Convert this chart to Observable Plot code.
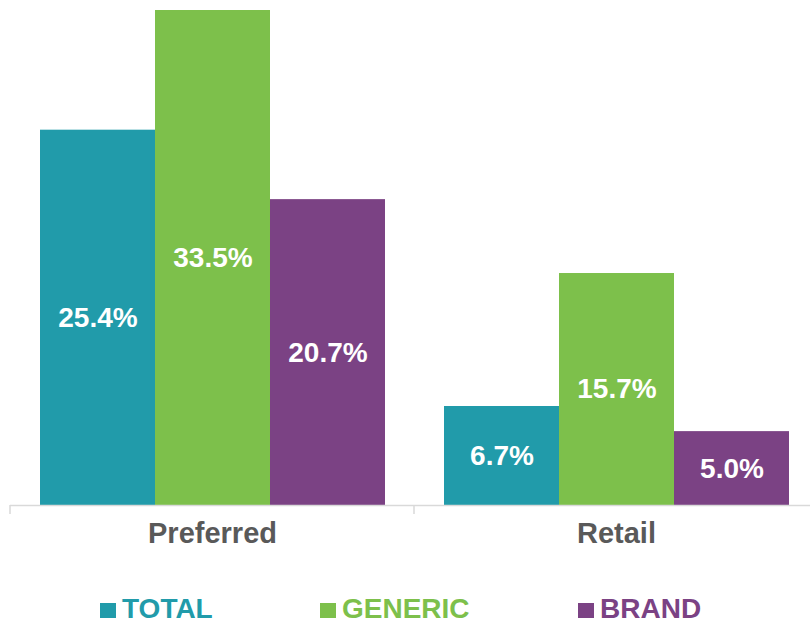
<!DOCTYPE html>
<html>
<head>
<meta charset="utf-8">
<script src="https://cdn.jsdelivr.net/npm/d3@7"></script>
<script src="https://cdn.jsdelivr.net/npm/@observablehq/plot@0.6"></script>
<style>
  html, body { margin: 0; padding: 0; background: #fff; overflow: hidden; width: 810px; height: 623px; }
  #chart { position: absolute; left: 0; top: 0; width: 818px; }
  #chart svg { max-width: none !important; }
  #legend { position: absolute; left: 0; top: 591px; width: 810px; height: 36px;
    font-family: "Liberation Sans", Arial, sans-serif; font-weight: bold; font-size: 28px; }
  .item { position: absolute; top: 0; height: 36px; }
  .sw { position: absolute; left: 0; top: 12px; width: 16px; height: 15px; }
  .lbl { position: absolute; left: 22px; top: 0; line-height: 36px; white-space: nowrap; }
</style>
</head>
<body>
<div id="chart"></div>
<div id="legend"></div>
<script>
const groups = ["Preferred", "Retail"];
const seriesNames = ["TOTAL", "GENERIC", "BRAND"];
const seriesColors = ["#219BAA", "#7DC04B", "#7B4284"];
const totalValues = [25.4, 6.7];
const genericValues = [33.5, 15.7];
const brandValues = [20.7, 5.0];

const valuesBySeries = [totalValues, genericValues, brandValues];
const data = [];
groups.forEach((g, gi) => {
  seriesNames.forEach((s, si) => {
    data.push({group: g, series: s, value: valuesBySeries[si][gi]});
  });
});

const plot = Plot.plot({
  width: 818,
  height: 580,
  marginLeft: 10,
  marginRight: 0,
  marginTop: 10,
  marginBottom: 75,
  style: {fontFamily: '"Liberation Sans", Arial, sans-serif', background: "#fff"},
  fx: {domain: groups, padding: 0, label: null},
  x: {domain: seriesNames, paddingInner: 0, paddingOuter: 0.2565, axis: null},
  y: {domain: [0, 33.5], axis: null},
  color: {domain: seriesNames, range: seriesColors},
  marks: [
    Plot.barY(data, {fx: "group", x: "series", y: "value", fill: "series"}),
    Plot.ruleY([0], {stroke: "#d9d9d9", strokeWidth: 1.5}),
    Plot.text(data, {fx: "group", x: "series", y: d => d.value / 2, text: d => d.value.toFixed(1) + "%",
      fill: "white", fontSize: 28, fontWeight: "bold"}),
    Plot.axisFx({anchor: "bottom", tickSize: 0, tickPadding: 17, fontSize: 29, fontWeight: "bold", fill: "#595959", label: null})
  ]
});
plot.style.maxWidth = "none";
document.getElementById("chart").appendChild(plot);

const svg = d3.select(plot);

// group-boundary ticks on the category axis, derived from the fx scale
const fxs = plot.scale("fx");
const yS = plot.scale("y");
const y0 = yS.range[0];
const bounds = fxs.domain.map((d, i) => fxs.range[0] + i * fxs.step);
bounds.push(fxs.range[0] + fxs.domain.length * fxs.step);
svg.append("g").selectAll("line").data(bounds).join("line")
  .attr("x1", d => d).attr("x2", d => d)
  .attr("y1", y0).attr("y2", y0 + 9)
  .attr("stroke", "#d9d9d9").attr("stroke-width", 1.5);

const legendLefts = [100, 320, 578];
const legend = d3.select("#legend");
seriesNames.forEach((s, i) => {
  const it = legend.append("div").attr("class", "item").style("left", legendLefts[i] + "px");
  it.append("span").attr("class", "sw").style("background", seriesColors[i]);
  it.append("span").attr("class", "lbl").text(s).style("color", seriesColors[i]);
});
</script>
</body>
</html>
